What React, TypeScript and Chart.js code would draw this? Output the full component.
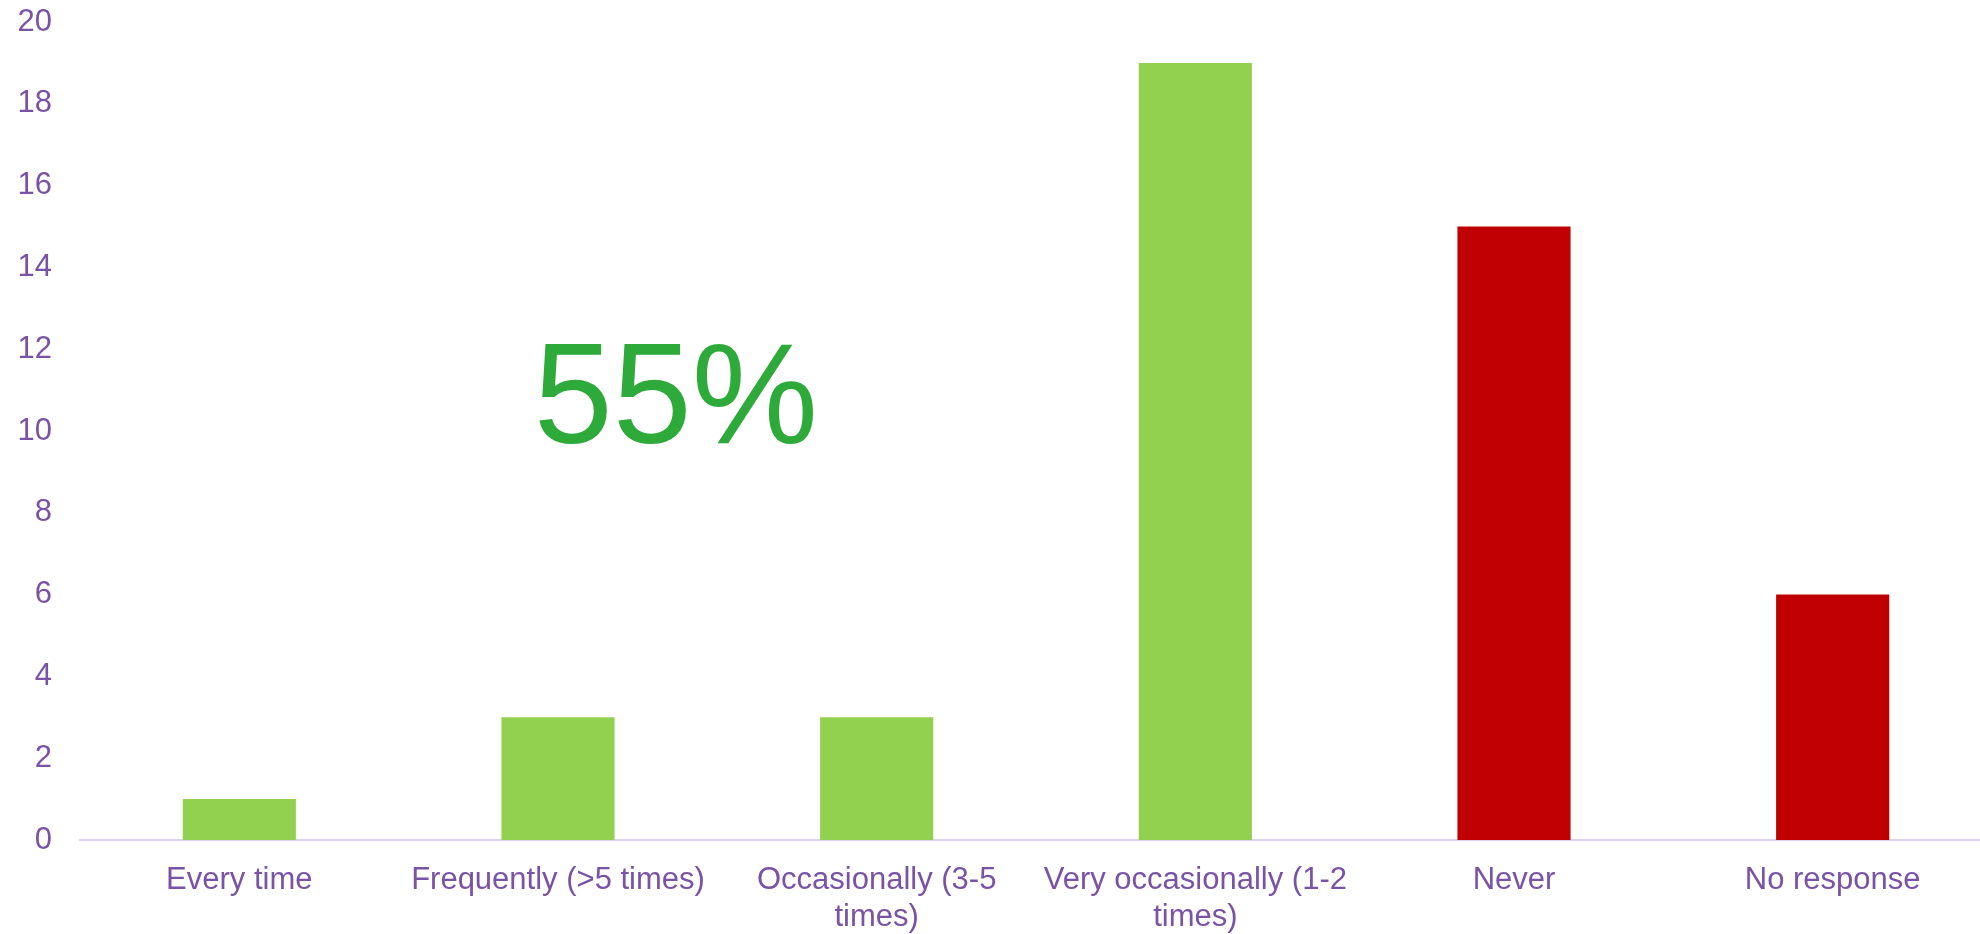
import React, { useEffect, useRef } from "react";
import { Chart, registerables } from "chart.js";

Chart.register(...registerables);

const categories: (string | string[])[] = [
  "Every time",
  "Frequently (>5 times)",
  ["Occasionally (3-5", "times)"],
  ["Very occasionally (1-2", "times)"],
  "Never",
  "No response",
];
const counts = [1, 3, 3, 19, 15, 6];
const barColors = ["#92D050", "#92D050", "#92D050", "#92D050", "#C00000", "#C00000"];
const yTicks = [0, 2, 4, 6, 8, 10, 12, 14, 16, 18, 20];
const bigLabel = "55%";
const bigLabelX = 1.37; // category-index position of the label centre
const bigLabelY = 9.7; // value position of the label baseline

const FONT = "'Liberation Sans', Arial, Helvetica, sans-serif";
const PURPLE = "#7A52A6";

const bigTextPlugin = {
  id: "bigText",
  afterDatasetsDraw(chart: any) {
    const { ctx, scales } = chart;
    const step = scales.x.getPixelForValue(1) - scales.x.getPixelForValue(0);
    const x = scales.x.getPixelForValue(0) + bigLabelX * step;
    const y = scales.y.getPixelForValue(bigLabelY);
    ctx.save();
    ctx.font = `142px ${FONT}`;
    ctx.fillStyle = "#2EAA3A";
    ctx.textAlign = "center";
    ctx.textBaseline = "alphabetic";
    ctx.fillText(bigLabel, x, y);
    ctx.restore();
  },
};

export default function App() {
  const ref = useRef<HTMLCanvasElement>(null);
  useEffect(() => {
    if (!ref.current) return;
    const chart = new Chart(ref.current, {
      type: "bar",
      data: {
        labels: categories as any,
        datasets: [
          {
            data: counts,
            backgroundColor: barColors,
            borderWidth: 0,
            barPercentage: 0.355,
            categoryPercentage: 1,
          },
        ],
      },
      options: {
        animation: false,
        responsive: true,
        maintainAspectRatio: false,
        layout: { padding: { left: 17, top: 22, right: 0, bottom: 0 } },
        plugins: { legend: { display: false }, tooltip: { enabled: false } },
        scales: {
          x: {
            grid: { display: false, drawTicks: false },
            border: { display: true, color: "#DCD3EA", width: 2 },
            ticks: {
              color: PURPLE,
              font: { family: FONT, size: 31, lineHeight: 1.2 },
              padding: 22,
              maxRotation: 0,
              autoSkip: false,
            },
            afterFit: (axis: any) => {
              axis.height = 94;
              axis.paddingLeft = 0;
              axis.paddingRight = 0;
            },
          },
          y: {
            min: 0,
            max: 20,
            afterBuildTicks: (axis: any) => {
              axis.ticks = yTicks.map((v) => ({ value: v }));
            },
            grid: { display: false, drawTicks: false },
            border: { display: false },
            ticks: {
              color: PURPLE,
              font: { family: FONT, size: 31 },
              padding: 28,
            },
            afterFit: (axis: any) => {
              axis.width = 63;
              axis.paddingTop = 0;
              axis.paddingBottom = 0;
            },
          },
        },
      },
      plugins: [bigTextPlugin],
    });
    return () => chart.destroy();
  }, []);

  return (
    <div
      style={{
        position: "fixed",
        left: 0,
        top: 0,
        width: 1980,
        height: 934,
        overflow: "hidden",
        background: "#fff",
      }}
    >
      <div style={{ position: "relative", width: 1992, height: 934 }}>
        <canvas ref={ref} />
      </div>
    </div>
  );
}
